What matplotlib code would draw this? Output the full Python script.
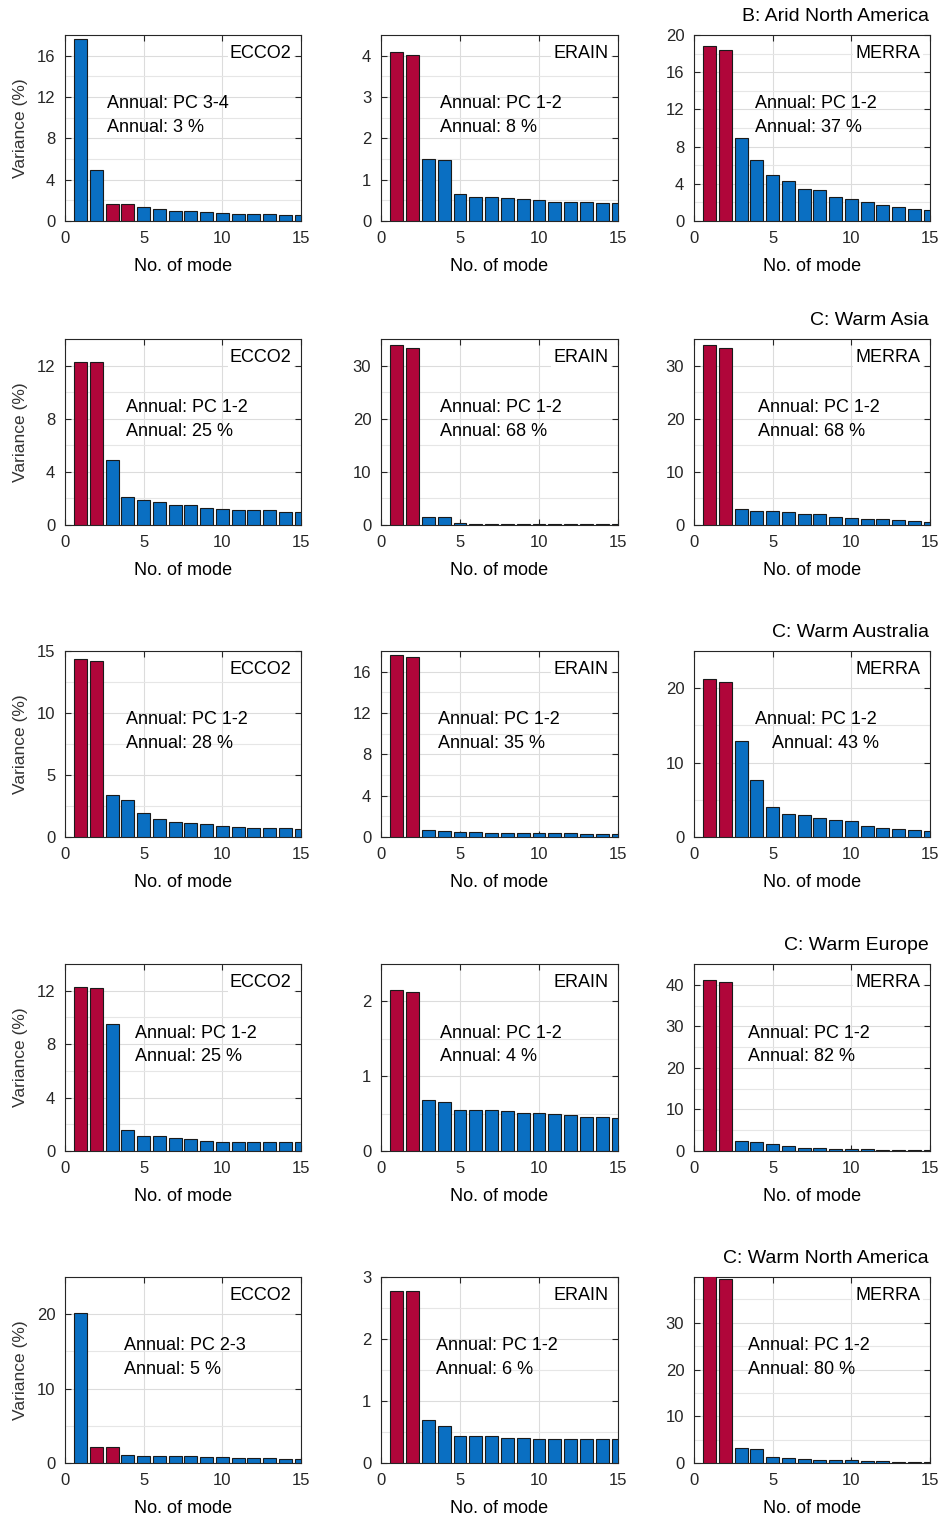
import numpy as np
import matplotlib
matplotlib.use('Agg')
import matplotlib.pyplot as plt
from matplotlib.ticker import MultipleLocator

plt.rcParams['font.family'] = ['Liberation Sans', 'DejaVu Sans']

modes = np.arange(1, 16)

# region titles (one per row, drawn above the MERRA panel)
regions = ['B: Arid North America', 'C: Warm Asia', 'C: Warm Australia',
           'C: Warm Europe', 'C: Warm North America']
datasets = ['ECCO2', 'ERAIN', 'MERRA']

# explained variance (%) per mode, rows = regions, cols = datasets
arid_ecco2 = [17.6, 4.9, 1.6, 1.6, 1.4, 1.15, 0.95, 0.95, 0.9, 0.8, 0.65, 0.65, 0.65, 0.6, 0.55]
arid_erain = [4.1, 4.02, 1.5, 1.48, 0.65, 0.57, 0.57, 0.56, 0.53, 0.52, 0.47, 0.47, 0.45, 0.44, 0.44]
arid_merra = [18.8, 18.4, 8.9, 6.6, 4.9, 4.3, 3.4, 3.35, 2.6, 2.4, 2.0, 1.7, 1.5, 1.3, 1.2]

asia_ecco2 = [12.3, 12.25, 4.9, 2.1, 1.85, 1.75, 1.5, 1.5, 1.3, 1.2, 1.15, 1.15, 1.15, 1.0, 1.0]
asia_erain = [33.8, 33.4, 1.45, 1.45, 0.3, 0.25, 0.2, 0.2, 0.2, 0.2, 0.2, 0.2, 0.2, 0.2, 0.2]
asia_merra = [33.8, 33.4, 3.1, 2.7, 2.6, 2.4, 2.0, 2.0, 1.5, 1.3, 1.2, 1.1, 0.9, 0.7, 0.6]

aus_ecco2 = [14.35, 14.2, 3.4, 3.0, 1.9, 1.45, 1.2, 1.15, 1.05, 0.85, 0.8, 0.75, 0.7, 0.7, 0.65]
aus_erain = [17.6, 17.4, 0.65, 0.6, 0.5, 0.5, 0.4, 0.38, 0.38, 0.37, 0.36, 0.35, 0.33, 0.32, 0.32]
aus_merra = [21.2, 20.9, 12.9, 7.6, 4.0, 3.1, 3.0, 2.6, 2.3, 2.2, 1.5, 1.15, 1.1, 0.9, 0.8]

eur_ecco2 = [12.3, 12.2, 9.5, 1.55, 1.15, 1.1, 0.95, 0.9, 0.75, 0.7, 0.65, 0.65, 0.65, 0.65, 0.65]
eur_erain = [2.15, 2.12, 0.68, 0.66, 0.55, 0.55, 0.55, 0.54, 0.51, 0.51, 0.49, 0.48, 0.45, 0.45, 0.44]
eur_merra = [41.2, 40.6, 2.4, 2.2, 1.7, 1.2, 0.8, 0.8, 0.6, 0.5, 0.45, 0.35, 0.3, 0.25, 0.2]

na_ecco2 = [20.1, 2.2, 2.1, 1.1, 1.0, 0.95, 0.9, 0.9, 0.85, 0.75, 0.7, 0.7, 0.7, 0.6, 0.55]
na_erain = [2.78, 2.78, 0.69, 0.6, 0.44, 0.44, 0.43, 0.4, 0.4, 0.39, 0.39, 0.39, 0.39, 0.38, 0.38]
na_merra = [40.0, 39.3, 3.2, 2.9, 1.2, 1.0, 0.8, 0.6, 0.55, 0.55, 0.4, 0.35, 0.3, 0.3, 0.3]

variance = [[arid_ecco2, arid_erain, arid_merra],
            [asia_ecco2, asia_erain, asia_merra],
            [aus_ecco2, aus_erain, aus_merra],
            [eur_ecco2, eur_erain, eur_merra],
            [na_ecco2, na_erain, na_merra]]

# highlighted (selected) PC pair
pc_pairs = [[(3, 4), (1, 2), (1, 2)],
            [(1, 2), (1, 2), (1, 2)],
            [(1, 2), (1, 2), (1, 2)],
            [(1, 2), (1, 2), (1, 2)],
            [(2, 3), (1, 2), (1, 2)]]
pct = [[3, 8, 37],
       [25, 68, 68],
       [28, 35, 43],
       [25, 4, 82],
       [5, 6, 80]]

# axis limits and tick steps
ylims = [[18, 4.5, 20], [14, 35, 35], [15, 18, 25], [14, 2.5, 45], [25, 3, 39.8]]
ysteps = [[4, 1, 4], [4, 10, 10], [5, 4, 10], [4, 1, 10], [10, 1, 10]]

# text placement in axes fraction
txt_x = [[0.18, 0.25, 0.26], [0.26, 0.25, 0.27], [0.26, 0.24, (0.26, 0.33)],
         [0.295, 0.25, 0.23], [0.25, 0.23, 0.23]]

blue = '#0a6fc2'
red = '#b0063a'

W, H = 942, 1520
fig = plt.figure(figsize=(W / 100, H / 100), dpi=100)

col_lr = [(65, 301), (381, 618), (694, 930)]
row_tb = [(35, 221), (339, 525), (651, 837), (964, 1151), (1277, 1463)]

for i in range(5):
    for j in range(3):
        l, r = col_lr[j]
        t, b = row_tb[i]
        ax = fig.add_axes([l / W, 1 - b / H, (r - l) / W, (b - t) / H])
        vals = variance[i][j]
        cols = [red if m in pc_pairs[i][j] else blue for m in modes]
        ax.bar(modes, vals, width=0.82, color=cols, edgecolor='#1a1a1a', linewidth=0.8, zorder=3)
        ax.set_xlim(0, 15)
        ax.set_ylim(0, ylims[i][j])
        ax.xaxis.set_major_locator(MultipleLocator(5))
        ax.yaxis.set_major_locator(MultipleLocator(ysteps[i][j]))
        ax.yaxis.set_minor_locator(MultipleLocator(ysteps[i][j] / 2))
        ax.grid(True, which='major', color='#dcdcdc', linewidth=0.8, zorder=0)
        ax.grid(True, which='minor', axis='y', color='#e6e6e6', linewidth=0.8, zorder=0)
        ax.tick_params(direction='in', length=4, width=0.8, top=True, right=True,
                       labelsize=12, pad=7, colors='#262626')
        ax.tick_params(which='minor', length=0)
        for s in ax.spines.values():
            s.set_color('#262626')
            s.set_linewidth(0.8)
        ax.set_xlabel('No. of mode', fontsize=13, labelpad=9)
        if j == 0:
            ax.set_ylabel('Variance (%)', fontsize=12.5, labelpad=6, color='#333333')
        ax.text(0.96, 0.90, datasets[j], transform=ax.transAxes, ha='right', va='center',
                fontsize=13, zorder=5,
                bbox=dict(facecolor='white', edgecolor='none', pad=1.5))
        tx = txt_x[i][j]
        tx1, tx2 = tx if isinstance(tx, tuple) else (tx, tx)
        p = pc_pairs[i][j]
        ax.text(tx1, 0.63, 'Annual: PC %d-%d' % p, transform=ax.transAxes,
                ha='left', va='center', fontsize=13, zorder=5)
        ax.text(tx2, 0.505, 'Annual: %d %%' % pct[i][j], transform=ax.transAxes,
                ha='left', va='center', fontsize=13, zorder=5)
        if j == 2:
            ax.text(0.995, 1.10, regions[i], transform=ax.transAxes, ha='right',
                    va='center', fontsize=14)

fig.savefig('out.png', dpi=100, facecolor='white')
